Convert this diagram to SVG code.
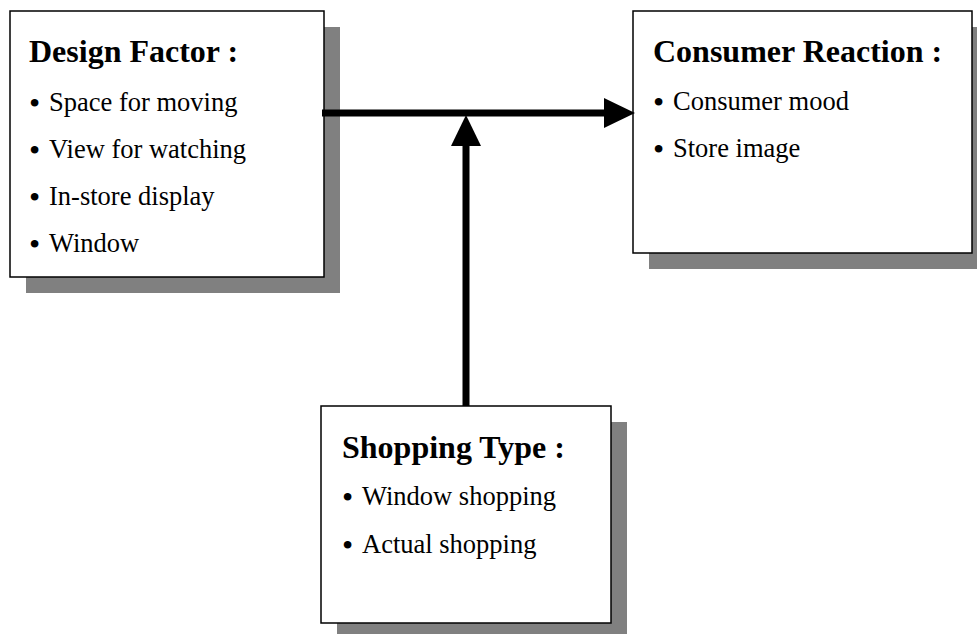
<svg xmlns="http://www.w3.org/2000/svg" width="977" height="634" viewBox="0 0 977 634">
<style>
.shadow{fill:#808080;stroke:none}
.box{fill:#ffffff;stroke:#000000;stroke-width:1.5}
.head{font-family:"Liberation Serif","Times New Roman",serif;font-weight:bold;font-size:32px;fill:#000}
.item{font-family:"Liberation Serif","Times New Roman",serif;font-size:26.5px;fill:#000}
.b{font-size:32px}
.conn{stroke:#000;stroke-width:7;fill:none}
</style>
<defs>
<marker id="ah" markerUnits="userSpaceOnUse" markerWidth="32" markerHeight="31" refX="0" refY="15" orient="auto">
<path d="M0,0 L31,15 L0,30 Z" fill="#000"/>
</marker>
</defs>
<rect width="977" height="634" fill="#ffffff"/>
<g id="design-factor">
<rect class="shadow" x="26" y="27" width="314" height="266"/>
<rect class="box" x="10" y="11" width="314" height="266"/>
<text class="head" x="29" y="62">Design Factor :</text>
<text class="item" y="111"><tspan class="b" x="29" dy="3">•</tspan><tspan x="49" dy="-3">Space for moving</tspan></text>
<text class="item" y="158"><tspan class="b" x="29" dy="3">•</tspan><tspan x="49" dy="-3">View for watching</tspan></text>
<text class="item" y="205"><tspan class="b" x="29" dy="3">•</tspan><tspan x="49" dy="-3">In-store display</tspan></text>
<text class="item" y="252"><tspan class="b" x="29" dy="3">•</tspan><tspan x="49" dy="-3">Window</tspan></text>
</g>
<g id="consumer-reaction">
<rect class="shadow" x="649" y="27" width="339" height="242"/>
<rect class="box" x="633" y="11" width="339" height="242"/>
<text class="head" x="653" y="62">Consumer Reaction :</text>
<text class="item" y="110"><tspan class="b" x="653" dy="3">•</tspan><tspan x="673" dy="-3">Consumer mood</tspan></text>
<text class="item" y="157"><tspan class="b" x="653" dy="3">•</tspan><tspan x="673" dy="-3">Store image</tspan></text>
</g>
<g id="shopping-type">
<rect class="shadow" x="337" y="422" width="290" height="217"/>
<rect class="box" x="321" y="406" width="290" height="217"/>
<text class="head" x="342" y="458">Shopping Type :</text>
<text class="item" y="505"><tspan class="b" x="342" dy="3">•</tspan><tspan x="362" dy="-3">Window shopping</tspan></text>
<text class="item" y="553"><tspan class="b" x="342" dy="3">•</tspan><tspan x="362" dy="-3">Actual shopping</tspan></text>
</g>
<g id="connectors">
<line class="conn" x1="322" y1="113" x2="604" y2="113" marker-end="url(#ah)"/>
<line class="conn" x1="466" y1="406" x2="466" y2="146" marker-end="url(#ah)"/>
</g>
</svg>
